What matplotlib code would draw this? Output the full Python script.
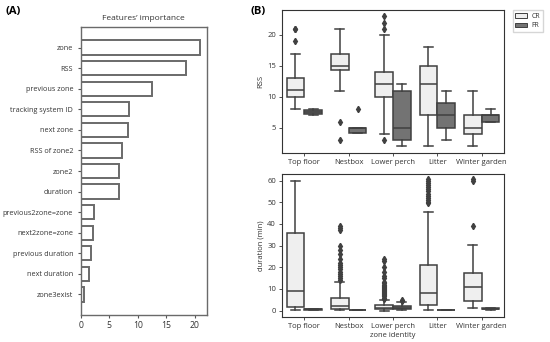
import matplotlib
matplotlib.use("Agg")
import matplotlib.pyplot as plt
from matplotlib.patches import Patch

plt.rcParams["font.family"] = ["Open Sans", "DejaVu Sans"]

# panel A: feature importance
features = ["zone", "RSS", "previous zone", "tracking system ID", "next zone",
            "RSS of zone2", "zone2", "duration", "previous2zone=zone",
            "next2zone=zone", "previous duration", "next duration", "zone3exist"]
importance = [20.9, 18.4, 12.4, 8.4, 8.2, 7.2, 6.7, 6.7, 2.3, 2.1, 1.7, 1.4, 0.5]

# panel B: boxplot summaries per zone, CR and FR
zones = ["Top floor", "Nestbox", "Lower perch", "Litter", "Winter garden"]
groups = ["CR", "FR"]

# (whislo, q1, med, q3, whishi, fliers)
rss_cr = [
    (8, 10, 11.1, 13.1, 17, [19, 21, 21]),
    (11, 14.3, 15, 17, 21, [6, 3]),
    (4, 10, 12, 14, 20, [21, 22, 23, 3]),
    (2, 7, 12, 15, 18, []),
    (2, 4, 5, 7, 11, []),
]
rss_fr = [
    (7, 7.3, 7.6, 7.8, 8, []),
    (4.1, 4.1, 5.0, 5.0, 5.0, [8]),
    (2, 3, 5, 11, 12, []),
    (3, 5, 7, 9, 11, []),
    (6, 6, 7, 7, 8, []),
]
dur_cr = [
    (0.3, 1.5, 9.0, 35.8, 60, []),
    (0.2, 0.8, 2.3, 5.6, 13, [14, 15, 16, 17, 18, 19, 20, 21, 22, 24, 26, 28, 30, 37, 38, 39]),
    (0.0, 0.5, 1.2, 2.4, 4.9, [5.5, 6, 6.5, 7, 7.5, 8, 8.5, 9, 9.5, 10, 10.5, 11, 11.5,
                               12, 12.5, 13, 15, 16, 18, 20, 23, 24]),
    (0.3, 2.4, 7.9, 20.8, 45.5, [49.5, 50, 51, 52, 53, 54, 55, 56, 57, 58, 59, 60, 60.5]),
    (1.4, 4.4, 11.0, 17.4, 30.4, [39, 60, 60.5]),
]
dur_fr = [
    (0.3, 0.4, 0.5, 0.7, 0.8, []),
    (0.1, 0.15, 0.2, 0.3, 0.4, []),
    (0.2, 0.7, 1.3, 2.0, 3.8, [4.5, 5]),
    (0.2, 0.25, 0.3, 0.35, 0.4, []),
    (0.2, 0.5, 0.8, 1.0, 1.2, []),
]

cr_color = "#efefef"
fr_color = "#737373"
edge = "#404040"


def to_stats(rows):
    return [dict(whislo=r[0], q1=r[1], med=r[2], q3=r[3], whishi=r[4], fliers=r[5])
            for r in rows]


def draw_boxes(ax, cr_rows, fr_rows):
    for rows, shift, color in [(cr_rows, -0.2, cr_color), (fr_rows, 0.2, fr_color)]:
        pos = [i + shift for i in range(len(zones))]
        ax.bxp(to_stats(rows), positions=pos, widths=0.4, patch_artist=True,
               boxprops=dict(facecolor=color, edgecolor=edge, linewidth=1.1),
               medianprops=dict(color=edge, linewidth=1.1),
               whiskerprops=dict(color=edge, linewidth=1.1),
               capprops=dict(color=edge, linewidth=1.1),
               flierprops=dict(marker="d", markerfacecolor=edge, markeredgecolor=edge,
                               markersize=3.2),
               capwidths=0.2, manage_ticks=False)
    ax.set_xticks(range(len(zones)))
    ax.set_xlim(-0.5, len(zones) - 0.5)
    for s in ax.spines.values():
        s.set_color("#333333")
        s.set_linewidth(0.8)
    ax.tick_params(labelsize=5.5, length=2.5, width=0.6, colors="#333333", pad=2)


fig = plt.figure(figsize=(5.5, 3.42), dpi=100)

# (A)
axA = fig.add_axes([0.147, 0.079, 0.229, 0.842])
ypos = list(range(len(features)))
axA.barh(ypos, importance, height=0.7, color="white", edgecolor="#6a6a6a", linewidth=1.4)
axA.set_yticks(ypos)
axA.set_yticklabels(features)
axA.set_ylim(len(features), -1)
axA.set_xlim(0, 22.1)
axA.set_xticks([0, 5, 10, 15, 20])
axA.set_title("Features\u2019 importance", fontsize=6, color="#333333", pad=5)
for s in axA.spines.values():
    s.set_color("#6a6a6a")
    s.set_linewidth(1.0)
axA.tick_params(axis="y", labelsize=5.2, length=2.5, width=0.8, colors="#555555",
                labelcolor="#333333", pad=3)
axA.tick_params(axis="x", labelsize=6.2, length=2.5, width=0.8, colors="#555555",
                labelcolor="#333333", pad=2)

# (B) top: RSS
axB1 = fig.add_axes([0.513, 0.553, 0.403, 0.418])
draw_boxes(axB1, rss_cr, rss_fr)
axB1.set_ylim(0.95, 24.05)
axB1.set_yticks([5, 10, 15, 20])
axB1.set_ylabel("RSS", fontsize=5.5, color="#333333", labelpad=2)
axB1.set_xticklabels(zones)
axB1.legend(handles=[Patch(facecolor=cr_color, edgecolor=edge, linewidth=0.7, label="CR"),
                     Patch(facecolor=fr_color, edgecolor=edge, linewidth=0.7, label="FR")],
            loc="upper left", bbox_to_anchor=(1.04, 1.0), fontsize=5, frameon=True,
            handlelength=1.7, handleheight=0.7, handletextpad=0.6, borderpad=0.4,
            labelspacing=0.4, borderaxespad=0, fancybox=False, edgecolor="#cccccc",
            labelcolor="#333333")

# (B) bottom: duration
axB2 = fig.add_axes([0.513, 0.073, 0.403, 0.418])
draw_boxes(axB2, dur_cr, dur_fr)
axB2.set_ylim(-3, 63)
axB2.set_yticks([0, 10, 20, 30, 40, 50, 60])
axB2.set_ylabel("duration (min)", fontsize=5.5, color="#333333", labelpad=2)
axB2.set_xticklabels(zones)
axB2.set_xlabel("zone identity", fontsize=5.5, color="#333333", labelpad=1)

fig.text(0.01, 0.965, "(A)", fontsize=8, fontweight="bold", va="center")
fig.text(0.455, 0.965, "(B)", fontsize=8, fontweight="bold", va="center")

fig.savefig("out.png", dpi=100)
